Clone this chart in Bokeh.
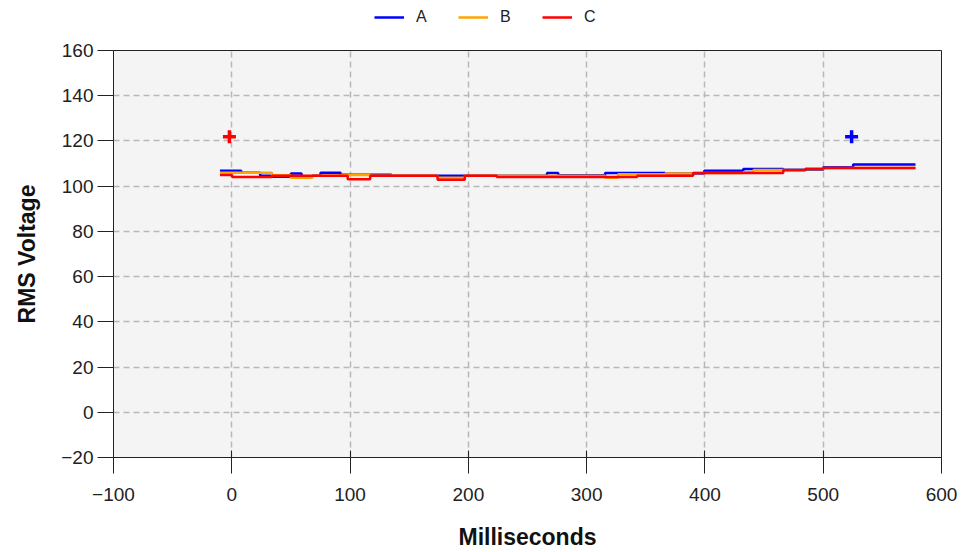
from bokeh.plotting import figure
from bokeh.models import Range1d, FixedTicker, Legend, LegendItem
from bokeh.layouts import column
from bokeh.embed import file_html
from bokeh.resources import INLINE

# ---- data ----
A_ms = [-10, 8, 24, 34, 50, 59, 68, 75, 92, 135, 266.5, 276, 315.6, 366.4, 399.4, 432.4, 466.2, 500, 525.3, 578]
A_v = [106.8, 105.9, 104.6, 104.2, 105.6, 104.2, 104.6, 105.9, 105.0, 104.6, 105.8, 104.8, 105.8, 105.6, 106.8, 107.6, 107.3, 108.4, 109.6, 109.6]

B_ms = [-10, 34, 50, 68, 92, 117, 174, 197, 315.6, 326.6, 366.4, 390, 432.4, 441, 485, 500, 578]
B_v = [105.9, 104.8, 103.7, 104.6, 104.9, 104.6, 103.7, 104.6, 103.7, 105.3, 105.6, 105.8, 106.2, 107.1, 107.5, 108.0, 108.0]

C_ms = [-10, 0.3, 34, 98, 117, 174, 197, 224, 342.7, 390, 466.2, 485, 500, 578]
C_v = [104.9, 104.1, 104.6, 103.1, 104.6, 102.8, 104.6, 104.1, 104.6, 105.8, 107.0, 107.7, 108.0, 108.0]

marker_ms = [-2, 524]
marker_v = [121.8, 121.8]
marker_colors = ["red", "blue"]

x_ticks = [-100, 0, 100, 200, 300, 400, 500, 600]
y_ticks = [-20, 0, 20, 40, 60, 80, 100, 120, 140, 160]

series_names = ["A", "B", "C"]
series_colors = ["#0000ff", "#ffa500", "#ff0000"]

FONT = "Liberation Sans"

# ---- main chart ----
p = figure(width=962, height=512, output_backend="svg", toolbar_location=None,
           x_range=Range1d(-100, 600), y_range=Range1d(-20, 160),
           min_border_left=113, min_border_right=21, min_border_top=10, min_border_bottom=94)
p.border_fill_color = "white"
p.background_fill_color = "#f4f4f4"
p.outline_line_color = "#222222"
p.outline_line_width = 1

series = [(A_ms, A_v), (B_ms, B_v), (C_ms, C_v)]
for (xs, ys), c in zip(series, series_colors):
    p.step(xs, ys, mode="after", line_color=c, line_width=2.5)

p.scatter(marker_ms, marker_v, marker="cross", size=13, line_width=3.5, color=marker_colors)

for ax in (p.xaxis[0], p.yaxis[0]):
    ax.axis_line_color = "#222222"
    ax.major_tick_line_color = "#222222"
    ax.minor_tick_line_color = None
    ax.major_label_text_font = FONT
    ax.major_label_text_font_size = "19px"
    ax.major_label_text_color = "#222222"
    ax.axis_label_text_font = FONT
    ax.axis_label_text_font_style = "bold"
    ax.axis_label_text_font_size = "23px"
    ax.axis_label_text_color = "#111111"

p.xaxis.ticker = FixedTicker(ticks=x_ticks)
p.yaxis.ticker = FixedTicker(ticks=y_ticks)
p.xaxis.axis_label = "Milliseconds"
p.yaxis.axis_label = "RMS Voltage"
p.xaxis.major_tick_in = 7
p.xaxis.major_tick_out = 16
p.yaxis.major_tick_in = 0
p.yaxis.major_tick_out = 16
p.xaxis.major_label_standoff = 14
p.yaxis.major_label_standoff = 4
p.xaxis.axis_label_standoff = 20
p.yaxis.axis_label_standoff = 18

for g in (p.xgrid[0], p.ygrid[0]):
    g.grid_line_color = "#b8b8b8"
    g.grid_line_dash = "6 4"
    g.grid_line_width = 1.5
p.xgrid.ticker = FixedTicker(ticks=x_ticks)
p.ygrid.ticker = FixedTicker(ticks=y_ticks)

# ---- legend strip above the chart ----
lg = figure(width=962, height=40, output_backend="svg", toolbar_location=None,
            x_range=Range1d(0, 1), y_range=Range1d(0, 1),
            x_axis_location=None, y_axis_location=None,
            min_border_left=0, min_border_right=0, min_border_top=0, min_border_bottom=0)
lg.grid.visible = False
lg.outline_line_color = None
lg.background_fill_color = "white"
lg.border_fill_color = "white"
legend_renderers = [lg.line([5, 6], [5, 6], line_color=c, line_width=2.5) for c in series_colors]
legend = Legend(items=[LegendItem(label=n, renderers=[r]) for n, r in zip(series_names, legend_renderers)],
                orientation="horizontal", location=(261, 14),
                label_text_font=FONT, label_text_font_size="16px", label_text_color="#222222",
                glyph_width=30, glyph_height=16, label_standoff=12, spacing=22,
                padding=4, margin=0, border_line_color=None, background_fill_alpha=0)
lg.add_layout(legend)

layout = column(lg, p, spacing=0)
open("out.html", "w").write(file_html(layout, INLINE))
